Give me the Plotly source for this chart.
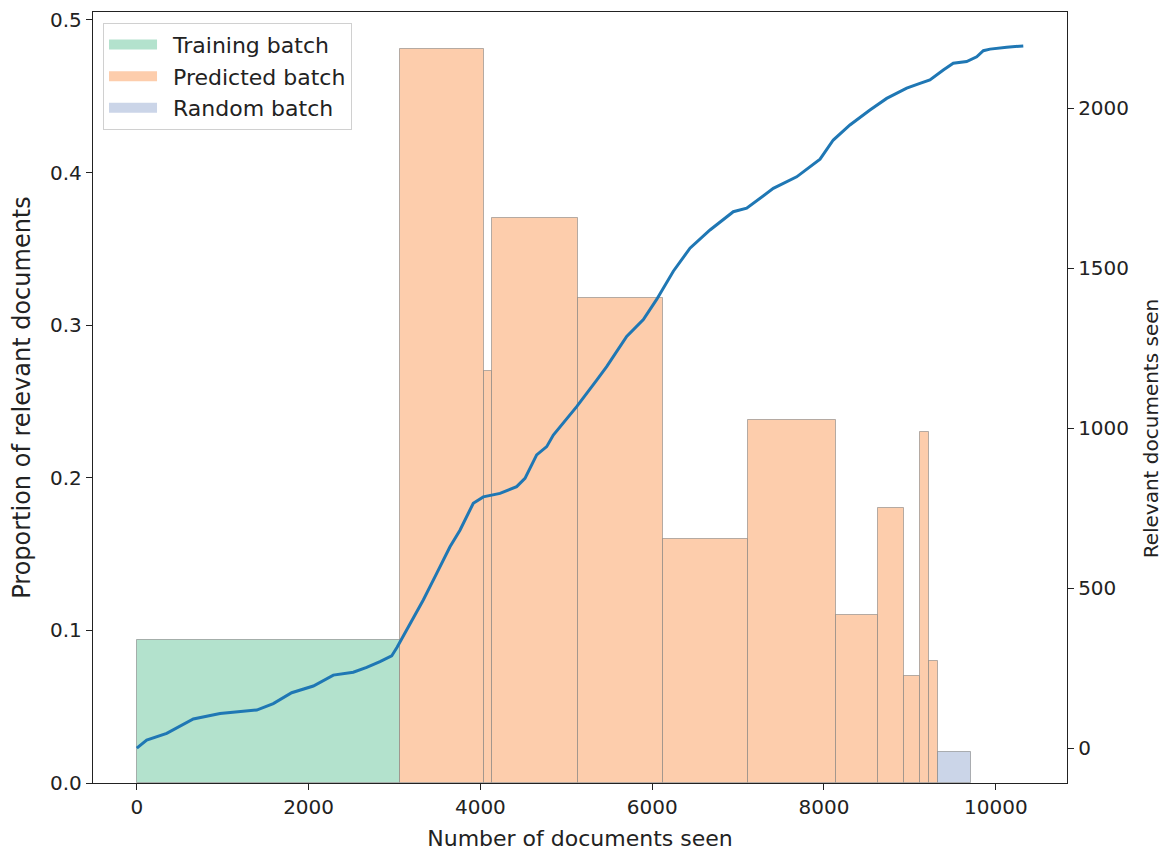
import numpy as np
import plotly.graph_objects as go

# Batches (left axis: proportion of relevant documents)
train_start = [0]
train_end = [3060]
train_prop = [0.094]

pred_start = [3060, 4040, 4140, 5135, 6130, 7118, 8145, 8624, 8927, 9118, 9222]
pred_end = [4040, 4140, 5135, 6130, 7118, 8145, 8624, 8927, 9118, 9222, 9323]
pred_prop = [0.481, 0.270, 0.370, 0.318, 0.160, 0.238, 0.110, 0.180, 0.070, 0.230, 0.080]

rand_start = [9323]
rand_end = [9707]
rand_prop = [0.020]

# Cumulative relevant documents (right axis)
docs_seen = [0, 115, 348, 658, 969, 1396, 1589, 1803, 2055, 2288, 2520, 2676, 2831,
             2967, 3030, 3064, 3180, 3335, 3491, 3646, 3762, 3917, 4034, 4228, 4422,
             4519, 4655, 4772, 4849, 5121, 5354, 5470, 5703, 5897, 6052, 6246, 6440,
             6673, 6944, 7100, 7410, 7682, 7954, 8108, 8302, 8535, 8730, 8963, 9117,
             9233, 9389, 9505, 9661, 9778, 9855, 9933, 10127, 10320]
relevant_seen = [0, 25, 46, 91, 108, 119, 139, 173, 194, 228, 237, 252, 270,
                 288, 315, 332, 390, 463, 546, 629, 681, 765, 785, 796, 817,
                 843, 916, 942, 978, 1067, 1150, 1192, 1286, 1339, 1402, 1490, 1562,
                 1619, 1676, 1687, 1749, 1785, 1840, 1900, 1947, 1994, 2030, 2062, 2077,
                 2088, 2119, 2140, 2145, 2160, 2179, 2184, 2190, 2194]

x_ticks = [0, 2000, 4000, 6000, 8000, 10000]
y_ticks = [0, 0.1, 0.2, 0.3, 0.4, 0.5]
y2_ticks = [0, 500, 1000, 1500, 2000]

batch_names = ["Training batch", "Predicted batch", "Random batch"]
batch_colors = ["#b3e2cd", "#fdcdac", "#cbd5e8"]

EDGE = "rgba(120,120,120,0.55)"
FONT = "DejaVu Sans"
FS = 20      # tick labels
FT = 22      # horizontal titles / legend
FV = 24      # left vertical title
FR = 20      # right vertical title


def bar_trace(starts, ends, props, color, name):
    s = np.array(starts, dtype=float)
    e = np.array(ends, dtype=float)
    return go.Bar(
        x=(s + e) / 2, y=props, width=e - s, name=name, showlegend=False,
        marker=dict(color=color, line=dict(color=EDGE, width=1)),
        yaxis="y", xaxis="x", hoverinfo="skip",
    )


fig = go.Figure()
fig.add_trace(bar_trace(train_start, train_end, train_prop, batch_colors[0], batch_names[0]))
fig.add_trace(bar_trace(pred_start, pred_end, pred_prop, batch_colors[1], batch_names[1]))
fig.add_trace(bar_trace(rand_start, rand_end, rand_prop, batch_colors[2], batch_names[2]))
fig.add_trace(go.Scatter(
    x=docs_seen, y=relevant_seen, mode="lines", yaxis="y2", showlegend=False,
    line=dict(color="#1f77b4", width=3),
))
# legend patches (wide swatches like matplotlib)
for name, color in zip(batch_names, batch_colors):
    fig.add_trace(go.Scatter(
        x=[None], y=[None], mode="lines", name="\u2002" + name,
        line=dict(color=color, width=15),
    ))

axis_common = dict(
    showgrid=False, zeroline=False, showline=True, linecolor="#222", linewidth=1.3,
    ticks="outside", ticklen=6, tickcolor="#222", tickwidth=1.2, automargin=False,
    ticklabeloverflow="allow",
    tickfont=dict(family=FONT, size=FS, color="#222"),
)

fig.update_layout(
    width=1167, height=852,
    margin=dict(l=85, r=108, t=4, b=77),
    paper_bgcolor="white", plot_bgcolor="white",
    barmode="overlay", bargap=0,
    font=dict(family=FONT, size=FS, color="#222"),
    xaxis=dict(
        range=[-510, 10829], tickvals=x_ticks, ticktext=[str(v) for v in x_ticks], mirror=True,
        title=dict(text="Number of documents seen", font=dict(size=FT), standoff=12),
        **axis_common,
    ),
    yaxis=dict(
        range=[0, 0.5052], tickvals=y_ticks, ticktext=[f"{v:.1f}" for v in y_ticks],
        title=dict(text="Proportion of relevant documents", font=dict(size=FV), standoff=20),
        **axis_common,
    ),
    yaxis2=dict(
        range=[-109, 2300], tickvals=y2_ticks, ticktext=[str(v) for v in y2_ticks],
        overlaying="y", side="right",
        **axis_common,
    ),
    annotations=[dict(
        text="Relevant documents seen", textangle=-90, xref="paper", yref="paper",
        x=1.0, y=0.46, xanchor="center", yanchor="middle", xshift=84, showarrow=False,
        font=dict(family=FONT, size=FR, color="#222"),
    )],
    legend=dict(
        x=0.0103, y=0.986, xanchor="left", yanchor="top",
        bgcolor="rgba(255,255,255,0.8)", bordercolor="#d0d0d0", borderwidth=1,
        font=dict(family=FONT, size=FT, color="#222"), itemwidth=48, tracegroupgap=2,
    ),
)

fig.write_html("out.html")
